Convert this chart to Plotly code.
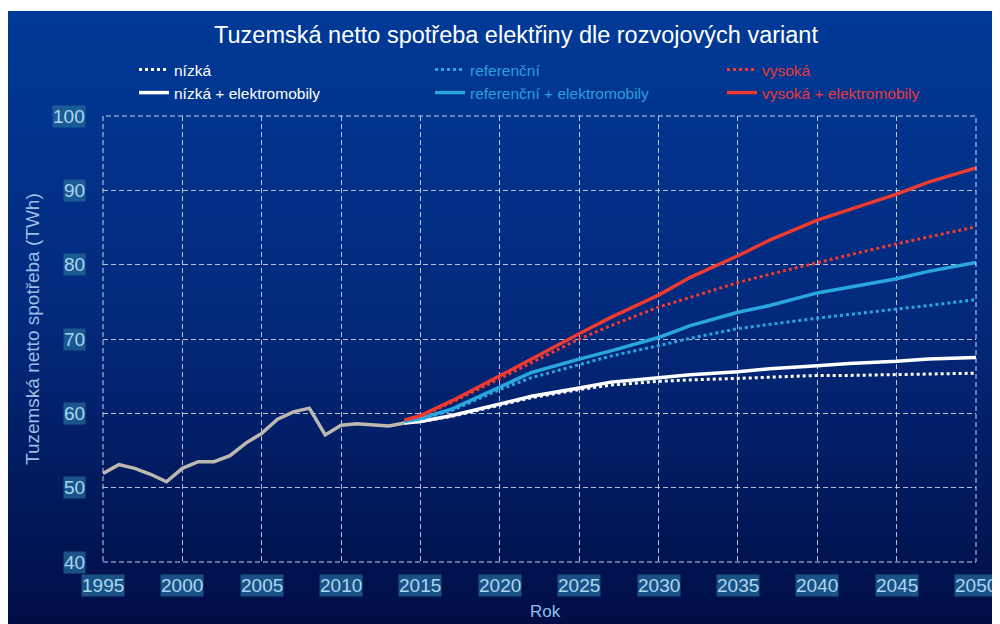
import base64
import plotly.graph_objects as go

# ---------------- data ----------------
years_hist = list(range(1995, 2015))
hist = [51.9, 53.1, 52.6, 51.8, 50.8, 52.6, 53.5, 53.5, 54.3, 56.0,
        57.3, 59.2, 60.2, 60.7, 57.1, 58.4, 58.6, 58.5, 58.3, 58.7]

years_proj = [2014, 2015, 2017, 2020, 2022, 2025, 2027, 2030, 2032, 2035,
              2037, 2040, 2042, 2045, 2047, 2050]
low = [58.7, 58.9, 59.6, 61.1, 62.1, 63.2, 63.8, 64.3, 64.5, 64.7, 64.9, 65.1, 65.1, 65.2, 65.3, 65.4]
low_ev = [58.7, 58.9, 59.7, 61.3, 62.3, 63.4, 64.2, 64.8, 65.2, 65.6, 66.0, 66.4, 66.7, 67.0, 67.3, 67.5]
ref = [58.9, 59.2, 60.4, 63.2, 64.8, 66.6, 67.7, 69.1, 70.1, 71.4, 72.0, 72.8, 73.3, 74.0, 74.5, 75.3]
ref_ev = [58.9, 59.3, 60.6, 63.6, 65.5, 67.3, 68.4, 70.2, 71.8, 73.6, 74.5, 76.2, 77.0, 78.1, 79.1, 80.3]
high = [59.1, 59.6, 61.5, 64.7, 66.8, 70.0, 71.8, 74.3, 75.6, 77.6, 78.7, 80.3, 81.3, 82.8, 83.7, 85.1]
high_ev = [59.1, 59.7, 61.7, 65.0, 67.3, 70.7, 72.9, 75.9, 78.3, 81.2, 83.3, 86.0, 87.4, 89.5, 91.1, 93.0]

names = ["nízká", "nízká + elektromobily", "referenční",
         "referenční + elektromobily", "vysoká", "vysoká + elektromobily"]
series = [low, low_ev, ref, ref_ev, high, high_ev]

x_ticks = list(range(1995, 2051, 5))
y_ticks = list(range(40, 101, 10))

title = "Tuzemská netto spotřeba elektřiny dle rozvojových variant"
y_title = "Tuzemská netto spotřeba (TWh)"
x_title = "Rok"

# ---------------- style ----------------
FONT = "Liberation Sans, Arial, sans-serif"
WHITE = "#ffffff"
BLUE = "#2aa6de"
RED = "#ee3a30"
GRAY = "#bdb8b0"
colors = [WHITE, WHITE, BLUE, BLUE, RED, RED]
dashes = ["dot", "solid", "dot", "solid", "dot", "solid"]
text_colors = [WHITE, WHITE, "#2b9fdc", "#2b9fdc", "#e8383a", "#e8383a"]

W, H = 1000, 624
OFF = 8  # page body margin: figure pixel = screen pixel - OFF
L, R, T, B = 103 - OFF, W - (976 - OFF), 116 - OFF, H - (562 - OFF)
pw, ph = W - L - R, H - T - B


def cx(px):
    return (px - OFF) / W


def cy(py):
    return 1 - (py - OFF) / H


leg_pos = [(cx(134), cy(70)), (cx(134), cy(93)),
           (cx(430), cy(70)), (cx(430), cy(93)),
           (cx(722), cy(70)), (cx(722), cy(93))]

fig = go.Figure()

fig.add_trace(go.Scatter(x=years_hist, y=hist, mode="lines",
                         line=dict(color=GRAY, width=3.5), showlegend=False,
                         hoverinfo="skip"))

for i, (nm, s) in enumerate(zip(names, series)):
    leg = "legend" if i == 0 else f"legend{i + 1}"
    fig.add_trace(go.Scatter(
        x=years_proj, y=s, mode="lines", name=nm, showlegend=True,
        line=dict(color=colors[i], width=3.5 if dashes[i] == "solid" else 3,
                  dash=dashes[i]),
        legend=leg))

svg = ('<svg xmlns="http://www.w3.org/2000/svg" width="10" height="100" '
       'preserveAspectRatio="none"><defs><linearGradient id="g" x1="0" y1="0" '
       'x2="0" y2="1"><stop offset="0" stop-color="#003a97"/>'
       '<stop offset="0.5" stop-color="#03297b"/>'
       '<stop offset="1" stop-color="#000d44"/></linearGradient></defs>'
       '<rect width="10" height="100" fill="url(#g)"/></svg>')
src = "data:image/svg+xml;base64," + base64.b64encode(svg.encode()).decode()
top_px = 11 - OFF
fig.add_layout_image(dict(
    source=src, xref="paper", yref="paper",
    x=(0 - L) / pw, y=(H - B - top_px) / ph,
    sizex=W / pw, sizey=(H - top_px) / ph,
    xanchor="left", yanchor="top", sizing="stretch", layer="below"))

fig.add_shape(type="rect", xref="paper", yref="paper", x0=0, y0=0, x1=1, y1=1,
              line=dict(color="rgba(235,240,255,0.85)", width=1, dash="5px,3px"),
              layer="above")

TICK_FONT = dict(family=FONT, size=19, color="#aad6f2")
TICK_BG = "rgba(36,104,152,0.75)"
annotations = []
for v in y_ticks:
    annotations.append(dict(x=0, xref="paper", y=v, yref="y", text=str(v),
                            showarrow=False, xanchor="right", yanchor="middle",
                            xshift=-17, font=TICK_FONT, bgcolor=TICK_BG,
                            borderpad=0))
for yr in x_ticks:
    annotations.append(dict(x=yr, xref="x", y=0, yref="paper", text=str(yr),
                            showarrow=False, xanchor="center", yanchor="top",
                            yshift=-12, font=TICK_FONT, bgcolor=TICK_BG,
                            borderpad=0))
annotations.append(dict(x=(32 - OFF - L) / pw, xref="paper",
                        y=(H - B - (329 - OFF)) / ph, yref="paper",
                        text=y_title, textangle=-90,
                        showarrow=False, xanchor="center", yanchor="middle",
                        font=dict(family=FONT, size=19, color="#9dbfe6")))
annotations.append(dict(x=(545 - OFF - L) / pw, xref="paper",
                        y=(H - B - (611 - OFF)) / ph, yref="paper",
                        text=x_title, showarrow=False,
                        xanchor="center", yanchor="middle",
                        font=dict(family=FONT, size=17, color="#8fc0ea")))

layout = dict(
    width=W, height=H,
    margin=dict(l=L, r=R, t=T, b=B, autoexpand=False),
    paper_bgcolor="#ffffff", plot_bgcolor="rgba(0,0,0,0)",
    title=dict(text=title, x=cx(516), xanchor="center", y=cy(35),
               yanchor="middle", xref="container", yref="container",
               font=dict(family=FONT, size=23.5, color=WHITE)),
    xaxis=dict(range=[1995, 2050], tickvals=x_ticks, showticklabels=False,
               showgrid=True, gridcolor="rgba(235,240,255,0.78)", gridwidth=1,
               griddash="5px,3px", zeroline=False, showline=False,
               fixedrange=True, automargin=False),
    yaxis=dict(range=[40, 100], tickvals=y_ticks, showticklabels=False,
               showgrid=True, gridcolor="rgba(235,240,255,0.78)", gridwidth=1,
               griddash="5px,3px", zeroline=False, showline=False,
               fixedrange=True, automargin=False),
    annotations=annotations,
    showlegend=True,
)
for i in range(6):
    key = "legend" if i == 0 else f"legend{i + 1}"
    x, y = leg_pos[i]
    layout[key] = dict(x=x, y=y, xref="container", yref="container",
                       xanchor="left", yanchor="middle",
                       bgcolor="rgba(0,0,0,0)", borderwidth=0,
                       font=dict(family=FONT, size=15.5, color=text_colors[i]),
                       itemwidth=30)
fig.update_layout(**layout)

fig.write_html("out.html")
